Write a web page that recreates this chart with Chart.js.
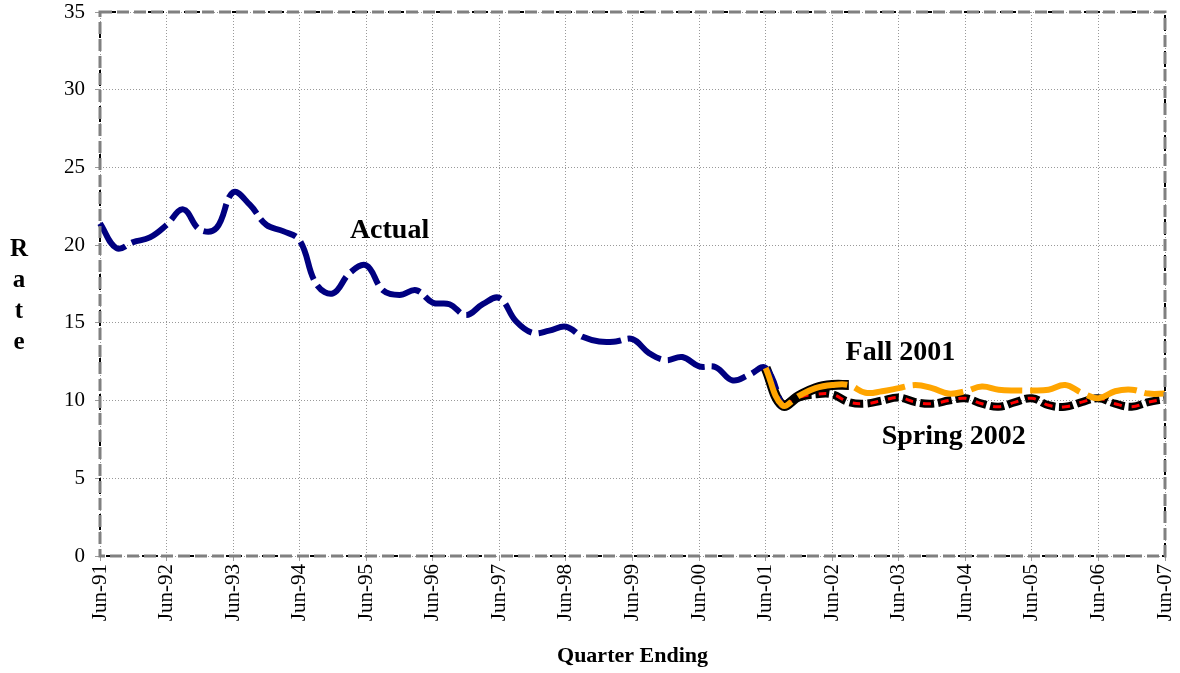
<!DOCTYPE html>
<html>
<head>
<meta charset="utf-8">
<script src="https://cdn.jsdelivr.net/npm/chart.js@4/dist/chart.umd.min.js"></script>
<style>
  body { margin: 0; background: #fff; }
  #wrap { width: 1180px; height: 673px; }
</style>
</head>
<body>
<div id="wrap"><canvas id="rateChart" width="1180" height="673"></canvas></div>
<script>
// year tick labels (one per June)
var yearLabels = ['Jun-91','Jun-92','Jun-93','Jun-94','Jun-95','Jun-96','Jun-97','Jun-98',
                  'Jun-99','Jun-00','Jun-01','Jun-02','Jun-03','Jun-04','Jun-05','Jun-06','Jun-07'];
var quarterMonths = ['Jun','Sep','Dec','Mar'];

// quarterly categories Jun-91 .. Jun-07
var quarters = [];
for (var i = 0; i <= 64; i++) {
  var yr = 91 + Math.floor((i + 2) / 4);   // Mar belongs to the next year
  quarters.push(quarterMonths[i % 4] + '-' + String(yr % 100).padStart(2, '0'));
}

// Actual, Jun-91 .. Sep-01
var actual = [21.4, 19.8, 20.2, 20.5, 21.3, 22.3, 21.0, 21.1, 23.4, 22.6,
              21.3, 20.9, 20.3, 17.5, 16.9, 18.2, 18.7, 17.1, 16.8, 17.1,
              16.3, 16.2, 15.5, 16.2, 16.6, 15.1, 14.35, 14.5, 14.75, 14.1,
              13.8, 13.8, 13.95, 13.05, 12.6, 12.8, 12.2, 12.15, 11.3, 11.65,
              12.1, 9.6];

// forecasts, Jun-01 .. Jun-07
var fall2001 = [12.1, 9.7, 10.3, 10.8, 11.0, 11.0, 10.5, 10.6, 10.8, 11.0,
                10.8, 10.45, 10.6, 10.9, 10.7, 10.65, 10.65, 10.7, 11.0, 10.5,
                10.15, 10.6, 10.7, 10.45, 10.45];
var spring2002 = [null, 9.6, 10.2, 10.4, 10.4, 9.9, 9.8, 10.0, 10.2, 9.9,
                  9.8, 10.0, 10.15, 9.8, 9.6, 9.9, 10.15, 9.7, 9.6, 9.9,
                  10.15, 9.8, 9.6, 9.9, 10.1];

var forecastStart = 40; // index of Jun-01

function pad(arr, start) {
  var out = [];
  for (var i = 0; i < quarters.length; i++) {
    var k = i - start;
    out.push(k >= 0 && k < arr.length ? arr[k] : null);
  }
  return out;
}

var fallLine = pad(fall2001, forecastStart);
var springLine = pad(spring2002, forecastStart);
// black edging under the first year of the Fall 2001 path
var fallEdge = fallLine.map(function (v, i) { return i <= forecastStart + 5 ? v : null; });

var serif = '"Liberation Serif", "Times New Roman", serif';

var textPlugin = {
  id: 'textPlugin',
  afterDraw: function (chart) {
    var c = chart.ctx, a = chart.chartArea;
    var xs = chart.scales.x, ys = chart.scales.y;

    // plot frame: black under gray dashes
    c.save();
    c.lineWidth = 2;
    c.strokeStyle = '#000';
    c.setLineDash([4, 8]);
    c.strokeRect(a.left, a.top, a.right - a.left, a.bottom - a.top);
    c.lineWidth = 3;
    c.strokeStyle = '#808080';
    c.setLineDash([12, 5]);
    c.strokeRect(a.left, a.top, a.right - a.left, a.bottom - a.top);
    c.restore();

    c.save();
    c.fillStyle = '#000';
    c.textAlign = 'center';
    c.textBaseline = 'middle';
    c.font = 'bold 28px ' + serif;
    c.fillText('Actual', xs.getPixelForValue(17.4), ys.getPixelForValue(20.9));
    c.fillText('Fall 2001', xs.getPixelForValue(48.1), ys.getPixelForValue(13.1));
    c.fillText('Spring 2002', xs.getPixelForValue(51.3), ys.getPixelForValue(7.65));

    c.font = 'bold 25px ' + serif;
    var letters = ['R', 'a', 't', 'e'];
    letters.forEach(function (ch, k) { c.fillText(ch, 19, 250 + k * 31); });

    c.font = 'bold 22px ' + serif;
    c.fillText('Quarter Ending', (a.left + a.right) / 2, 656);
    c.restore();
  }
};

var ctx = document.getElementById('rateChart').getContext('2d');
var chart = new Chart(ctx, {
  type: 'line',
  data: {
    labels: quarters,
    datasets: [
      { label: 'Fall 2001', data: fallLine, borderColor: '#FFA500', borderWidth: 6,
        borderDash: [52, 8], order: 1 },
      { label: 'Actual', data: actual, borderColor: '#000080', borderWidth: 6,
        borderDash: [40, 7], order: 2 },
      { label: 'Spring 2002 red', data: springLine, borderColor: '#FF0000', borderWidth: 3,
        borderDash: [8, 10], borderDashOffset: -3, order: 3 },
      { label: 'Spring 2002', data: springLine, borderColor: '#000', borderWidth: 8,
        borderDash: [14, 4], order: 4 },
      { label: 'Fall 2001 edge', data: fallEdge, borderColor: '#000', borderWidth: 10,
        order: 5 }
    ]
  },
  options: {
    responsive: false,
    animation: false,
    layout: { padding: { top: 12, right: 15, left: 0, bottom: 0 } },
    elements: {
      point: { radius: 0 },
      line: { tension: 0.4, borderCapStyle: 'butt', fill: false }
    },
    plugins: { legend: { display: false }, tooltip: { enabled: false } },
    scales: {
      x: {
        type: 'category',
        offset: false,
        afterFit: function (s) {
          s.height = 117;
          s.paddingLeft = 0;
          s.paddingRight = 0;
        },
        grid: {
          color: function (c) { return c.index % 4 === 0 ? '#999' : 'transparent'; },
          lineWidth: 1,
          tickLength: 5,
          drawTicks: true
        },
        border: { display: false, dash: [1, 2] },
        ticks: {
          autoSkip: false,
          minRotation: 90,
          maxRotation: 90,
          padding: 3,
          color: '#000',
          font: { family: serif, size: 21 },
          callback: function (v, i) { return i % 4 === 0 ? yearLabels[i / 4] : ''; }
        }
      },
      y: {
        min: 0,
        max: 35,
        afterFit: function (s) {
          s.width = 100;
          s.paddingTop = 0;
          s.paddingBottom = 0;
        },
        grid: { color: '#999', lineWidth: 1, tickLength: 5 },
        border: { display: false, dash: [1, 2] },
        ticks: {
          stepSize: 5,
          padding: 10,
          color: '#000',
          font: { family: serif, size: 21 }
        }
      }
    }
  },
  plugins: [textPlugin]
});
</script>
</body>
</html>
